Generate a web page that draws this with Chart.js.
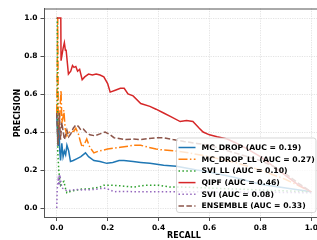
<!DOCTYPE html>
<html>
<head>
<meta charset="utf-8">
<script src="https://cdn.jsdelivr.net/npm/chart.js@4.4.1/dist/chart.umd.min.js"></script>
<style>
  html, body { margin: 0; padding: 0; overflow: hidden; background: #fff; }
  canvas { display: block; }
</style>
</head>
<body>
<canvas id="prChart" width="324" height="240"></canvas>
<script>
// Precision-recall curves
const mcDropRecall = [0, 0.005, 0.008, 0.012, 0.015, 0.02, 0.025, 0.03, 0.035, 0.04, 0.047, 0.054, 0.065, 0.08, 0.095, 0.113, 0.125, 0.146, 0.17, 0.197, 0.22, 0.245, 0.264, 0.3, 0.33, 0.366, 0.42, 0.47, 0.55, 0.6, 0.7, 0.8, 0.9, 1.0];
const mcDropPrecision = [0.5, 0.33, 0.45, 0.3, 0.25, 0.34, 0.27, 0.3, 0.28, 0.33, 0.3, 0.245, 0.25, 0.26, 0.27, 0.29, 0.27, 0.25, 0.245, 0.235, 0.24, 0.25, 0.25, 0.245, 0.24, 0.235, 0.225, 0.22, 0.2, 0.19, 0.16, 0.125, 0.105, 0.085];

const mcDropLLRecall = [0, 0.004, 0.006, 0.01, 0.014, 0.017, 0.02, 0.025, 0.028, 0.033, 0.04, 0.05, 0.06, 0.068, 0.075, 0.085, 0.093, 0.1, 0.11, 0.118, 0.13, 0.146, 0.165, 0.185, 0.2, 0.225, 0.25, 0.28, 0.3, 0.33, 0.36, 0.39, 0.42, 0.47, 0.52, 0.6, 0.7, 0.8, 0.9, 1.0];
const mcDropLLPrecision = [0.5, 1.0, 0.5, 0.42, 0.55, 0.62, 0.45, 0.48, 0.515, 0.42, 0.38, 0.4, 0.4, 0.405, 0.42, 0.39, 0.35, 0.32, 0.34, 0.363, 0.32, 0.29, 0.3, 0.305, 0.31, 0.315, 0.32, 0.325, 0.33, 0.33, 0.32, 0.31, 0.305, 0.3, 0.29, 0.27, 0.24, 0.2, 0.15, 0.085];

const sviLLRecall = [0, 0.002, 0.004, 0.008, 0.012, 0.015, 0.02, 0.028, 0.035, 0.04, 0.06, 0.08, 0.1, 0.12, 0.146, 0.17, 0.185, 0.21, 0.24, 0.264, 0.3, 0.35, 0.4, 0.445, 0.5, 0.6, 0.7, 0.8, 0.9, 1.0];
const sviLLPrecision = [1.0, 1.0, 0.3, 0.2, 0.15, 0.12, 0.13, 0.14, 0.1, 0.08, 0.09, 0.095, 0.1, 0.1, 0.105, 0.11, 0.12, 0.12, 0.118, 0.115, 0.11, 0.12, 0.12, 0.11, 0.11, 0.105, 0.1, 0.095, 0.09, 0.085];

const qipfRecall = [0, 0.016, 0.017, 0.025, 0.03, 0.034, 0.037, 0.046, 0.055, 0.062, 0.068, 0.075, 0.082, 0.09, 0.1, 0.11, 0.125, 0.14, 0.155, 0.17, 0.185, 0.2, 0.21, 0.23, 0.25, 0.265, 0.28, 0.3, 0.33, 0.366, 0.39, 0.42, 0.45, 0.485, 0.51, 0.535, 0.56, 0.575, 0.6, 0.63, 0.67, 0.7, 0.75, 0.8, 0.85, 0.9, 0.95, 1.0];
const qipfPrecision = [1.0, 1.0, 0.775, 0.84, 0.87, 0.83, 0.83, 0.705, 0.72, 0.75, 0.74, 0.745, 0.72, 0.73, 0.675, 0.69, 0.705, 0.7, 0.705, 0.7, 0.69, 0.655, 0.61, 0.62, 0.63, 0.63, 0.6, 0.59, 0.55, 0.535, 0.52, 0.5, 0.48, 0.455, 0.46, 0.455, 0.42, 0.4, 0.385, 0.375, 0.363, 0.345, 0.31, 0.27, 0.22, 0.17, 0.12, 0.085];

const sviRecall = [0, 0.002, 0.006, 0.01, 0.012, 0.016, 0.02, 0.03, 0.04, 0.06, 0.08, 0.1, 0.146, 0.185, 0.2, 0.225, 0.26, 0.3, 0.35, 0.4, 0.47, 0.6, 0.7, 0.8, 0.9, 1.0];
const sviPrecision = [0, 0.1, 0.15, 0.12, 0.175, 0.14, 0.105, 0.1, 0.09, 0.095, 0.097, 0.095, 0.097, 0.105, 0.1, 0.086, 0.087, 0.086, 0.086, 0.086, 0.086, 0.085, 0.084, 0.083, 0.082, 0.08];

const ensembleRecall = [0, 0.005, 0.01, 0.015, 0.02, 0.03, 0.04, 0.047, 0.055, 0.065, 0.075, 0.085, 0.095, 0.105, 0.115, 0.13, 0.15, 0.17, 0.19, 0.21, 0.225, 0.25, 0.27, 0.3, 0.33, 0.36, 0.39, 0.42, 0.457, 0.5, 0.55, 0.6, 0.65, 0.7, 0.75, 0.8, 0.85, 0.9, 0.95, 1.0];
const ensemblePrecision = [0.5, 0.33, 0.5, 0.36, 0.45, 0.36, 0.41, 0.375, 0.39, 0.42, 0.437, 0.43, 0.41, 0.415, 0.4, 0.385, 0.38, 0.39, 0.4, 0.385, 0.37, 0.365, 0.36, 0.363, 0.36, 0.365, 0.37, 0.37, 0.36, 0.35, 0.34, 0.33, 0.31, 0.29, 0.27, 0.25, 0.22, 0.18, 0.13, 0.085];

const seriesLabels = ["MC_DROP (AUC = 0.19)", "MC_DROP_LL (AUC = 0.27)", "SVI_LL (AUC = 0.10)", "QIPF (AUC = 0.46)", "SVI (AUC = 0.08)", "ENSEMBLE (AUC = 0.33)"];
const tickValues = [0, 0.2, 0.4, 0.6, 0.8, 1.0];

const FONT = "'DejaVu Sans', sans-serif";
const lw = 1.5;

function toPoints(xs, ys) {
  return xs.map((x, i) => ({ x: x, y: ys[i] }));
}

const series = [
  { r: mcDropRecall, p: mcDropPrecision, color: "#1f77b4", dash: [] },
  { r: mcDropLLRecall, p: mcDropLLPrecision, color: "#ff7f0e", dash: [9, 2.4, 1.5, 2.4] },
  { r: sviLLRecall, p: sviLLPrecision, color: "#2ca02c", dash: [1.5, 2.4] },
  { r: qipfRecall, p: qipfPrecision, color: "#d62728", dash: [] },
  { r: sviRecall, p: sviPrecision, color: "#9467bd", dash: [1.5, 2.4] },
  { r: ensembleRecall, p: ensemblePrecision, color: "#8c564b", dash: [5.5, 2.4] }
];

// top spine + legend box, matplotlib style
const framePlugin = {
  id: "frame",
  afterDraw(chart) {
    const ctx = chart.ctx;
    const a = chart.chartArea;
    ctx.save();
    ctx.strokeStyle = "#555";
    ctx.lineWidth = 1;
    ctx.beginPath();
    ctx.moveTo(a.left, a.top + 0.5);
    ctx.lineTo(a.right, a.top + 0.5);
    ctx.stroke();

    // legend
    const bx = 176.5, by = 138, bw = 139.5, bh = 74.5, rad = 2.5;
    ctx.beginPath();
    ctx.roundRect(bx, by, bw, bh, rad);
    ctx.fillStyle = "rgba(255,255,255,0.8)";
    ctx.fill();
    ctx.strokeStyle = "rgba(204,204,204,0.8)";
    ctx.lineWidth = 1;
    ctx.stroke();

    ctx.font = "bold 7.7px " + FONT;
    ctx.textBaseline = "middle";
    ctx.fillStyle = "#000";
    chart.data.datasets.forEach((ds, i) => {
      const y = 147.5 + i * 11.7;
      ctx.beginPath();
      ctx.setLineDash(ds.borderDash || []);
      ctx.strokeStyle = ds.borderColor;
      ctx.lineWidth = lw;
      ctx.moveTo(178.5, y);
      ctx.lineTo(195.5, y);
      ctx.stroke();
      ctx.setLineDash([]);
      ctx.fillText(ds.label, 201.5, y + 0.5);
    });
    ctx.restore();
  }
};

new Chart(document.getElementById("prChart").getContext("2d"), {
  type: "line",
  data: {
    datasets: series.map((s, i) => ({
      label: seriesLabels[i],
      data: toPoints(s.r, s.p),
      borderColor: s.color,
      borderWidth: lw,
      borderDash: s.dash,
      pointRadius: 0,
      fill: false,
      tension: 0,
      order: series.length - i
    }))
  },
  options: {
    responsive: false,
    animation: false,
    devicePixelRatio: 1,
    layout: { padding: { top: 8.5, left: 0, right: 0, bottom: 0 } },
    plugins: { legend: { display: false }, tooltip: { enabled: false } },
    scales: {
      x: {
        type: "linear",
        min: -0.05,
        max: 1.05,
        afterBuildTicks: s => { s.ticks = tickValues.map(v => ({ value: v })); },
        afterFit: s => { s.height = 22.5; s.paddingLeft = 0; s.paddingRight = 0; },
        ticks: {
          autoSkip: false,
          maxRotation: 0,
          padding: 3,
          color: "#000",
          font: { family: FONT, size: 7.5, weight: "bold" },
          callback: v => v.toFixed(1)
        },
        grid: { color: "#dcdcdc", lineWidth: 0.8, tickLength: 3.5, tickColor: "#222", tickWidth: 0.8, tickBorderDash: [] },
        border: { color: "#555", width: 1, dash: [1.2, 1.2] },
        title: {
          display: true,
          text: "RECALL",
          color: "#000",
          font: { family: FONT, size: 8, weight: "bold", lineHeight: 1 },
          padding: { top: 0, bottom: 0 }
        }
      },
      y: {
        type: "linear",
        min: -0.05,
        max: 1.05,
        afterBuildTicks: s => { s.ticks = tickValues.map(v => ({ value: v })); },
        afterFit: s => { s.width = 44; s.paddingTop = 0; s.paddingBottom = 0; },
        ticks: {
          padding: 3,
          color: "#000",
          font: { family: FONT, size: 7.5, weight: "bold" },
          callback: v => v.toFixed(1)
        },
        grid: { color: "#dcdcdc", lineWidth: 0.8, tickLength: 3.5, tickColor: "#222", tickWidth: 0.8, tickBorderDash: [] },
        border: { color: "#555", width: 1, dash: [1.2, 1.2] },
        title: {
          display: true,
          text: "PRECISION",
          color: "#000",
          font: { family: FONT, size: 8, weight: "bold", lineHeight: 1 },
          padding: { top: 13.5, bottom: 0 }
        }
      }
    }
  },
  plugins: [framePlugin]
});
</script>
</body>
</html>
